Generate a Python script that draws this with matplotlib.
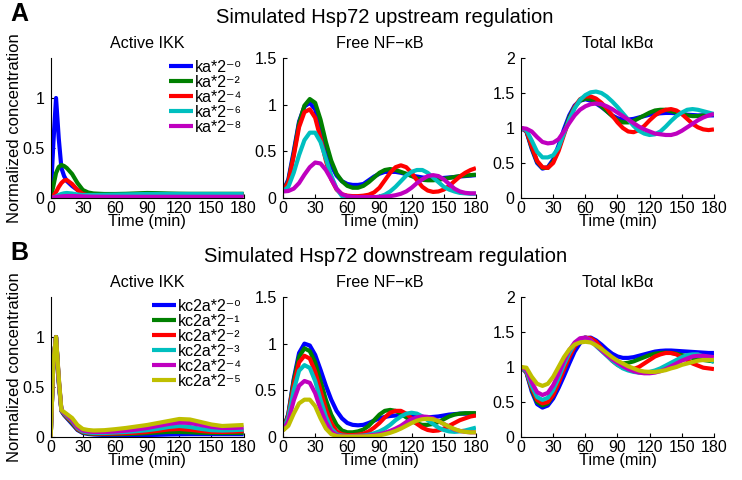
import numpy as np
import matplotlib
matplotlib.use("Agg")
from matplotlib import pyplot as plt

plt.rcParams['font.family'] = ['Liberation Sans', 'DejaVu Sans']

# ---- data ----
t = list(range(0, 181, 5))
t_ikk = [0, 2.5, 5, 7.5, 10, 12.5, 15, 20, 25, 30, 35, 40, 50, 60, 70, 80, 90,
         100, 110, 120, 130, 140, 150, 160, 170, 180]

up_labels = ['ka*2\u207b\u2070', 'ka*2\u207b\u00b2', 'ka*2\u207b\u2074',
             'ka*2\u207b\u2076', 'ka*2\u207b\u2078']
down_labels = ['kc2a*2\u207b\u2070', 'kc2a*2\u207b\u00b9', 'kc2a*2\u207b\u00b2',
               'kc2a*2\u207b\u00b3', 'kc2a*2\u207b\u2074', 'kc2a*2\u207b\u2075']

colors = ['#0000ff', '#008000', '#ff0000', '#00bfbf', '#bf00bf', '#bfbf00']

# upstream: active IKK
up_ikk = [
    [0, 0.55, 1.0, 0.6, 0.3, 0.22, 0.17, 0.12, 0.08, 0.05, 0.04, 0.035, 0.035, 0.035,
     0.035, 0.035, 0.035, 0.035, 0.035, 0.035, 0.035, 0.035, 0.035, 0.035, 0.035, 0.035],
    [0, 0.12, 0.25, 0.31, 0.33, 0.32, 0.3, 0.24, 0.15, 0.08, 0.055, 0.045, 0.04, 0.04,
     0.042, 0.046, 0.05, 0.048, 0.045, 0.043, 0.042, 0.042, 0.042, 0.042, 0.042, 0.042],
    [0, 0.02, 0.06, 0.11, 0.15, 0.175, 0.18, 0.14, 0.08, 0.04, 0.025, 0.02, 0.02, 0.02,
     0.02, 0.022, 0.025, 0.027, 0.028, 0.028, 0.028, 0.028, 0.028, 0.028, 0.028, 0.028],
    [0, 0.005, 0.015, 0.03, 0.04, 0.047, 0.05, 0.045, 0.035, 0.03, 0.03, 0.03, 0.032,
     0.034, 0.036, 0.038, 0.04, 0.04, 0.04, 0.04, 0.04, 0.04, 0.04, 0.04, 0.04, 0.04],
    [0, 0.005, 0.01, 0.013, 0.016, 0.018, 0.02, 0.02, 0.018, 0.016, 0.014, 0.013, 0.012,
     0.012, 0.012, 0.012, 0.012, 0.012, 0.012, 0.012, 0.012, 0.012, 0.012, 0.012, 0.012, 0.012],
]

# upstream: free NF-kB
up_nfkb = [
    [0.07, 0.2, 0.5, 0.82, 0.98, 1.02, 0.95, 0.75, 0.52, 0.35, 0.24, 0.18, 0.15, 0.14, 0.14,
     0.15, 0.19, 0.23, 0.26, 0.28, 0.28, 0.28, 0.27, 0.255, 0.24, 0.23, 0.22, 0.215, 0.21,
     0.21, 0.215, 0.22, 0.225, 0.23, 0.235, 0.24, 0.245],
    [0.07, 0.18, 0.47, 0.8, 0.99, 1.06, 1.02, 0.84, 0.6, 0.4, 0.26, 0.18, 0.13, 0.11, 0.11,
     0.13, 0.17, 0.22, 0.27, 0.3, 0.31, 0.3, 0.28, 0.26, 0.235, 0.21, 0.195, 0.19, 0.19,
     0.195, 0.205, 0.215, 0.225, 0.235, 0.24, 0.245, 0.25],
    [0.07, 0.17, 0.45, 0.76, 0.92, 0.95, 0.86, 0.64, 0.4, 0.2, 0.09, 0.04, 0.025, 0.02, 0.02,
     0.025, 0.035, 0.06, 0.11, 0.19, 0.27, 0.33, 0.35, 0.33, 0.27, 0.19, 0.12, 0.08, 0.065,
     0.07, 0.09, 0.13, 0.18, 0.23, 0.27, 0.3, 0.32],
    [0.07, 0.12, 0.27, 0.46, 0.62, 0.7, 0.7, 0.6, 0.42, 0.24, 0.1, 0.02, 0, 0, 0, 0, 0,
     0.005, 0.015, 0.035, 0.07, 0.12, 0.18, 0.24, 0.28, 0.3, 0.3, 0.27, 0.22, 0.17, 0.12,
     0.09, 0.07, 0.055, 0.05, 0.045, 0.045],
    [0.07, 0.075, 0.1, 0.16, 0.25, 0.33, 0.38, 0.37, 0.3, 0.2, 0.1, 0.04, 0.02, 0.012, 0.01,
     0.01, 0.01, 0.01, 0.012, 0.015, 0.02, 0.03, 0.045, 0.07, 0.11, 0.16, 0.2, 0.235, 0.245,
     0.235, 0.2, 0.15, 0.1, 0.07, 0.055, 0.05, 0.05],
]

# upstream: total IkBa
up_ikba = [
    [1.0, 0.95, 0.7, 0.5, 0.42, 0.44, 0.55, 0.75, 0.98, 1.18, 1.32, 1.39, 1.41, 1.39, 1.35,
     1.3, 1.24, 1.18, 1.14, 1.12, 1.12, 1.13, 1.15, 1.17, 1.19, 1.2, 1.21, 1.215, 1.215,
     1.21, 1.2, 1.19, 1.185, 1.18, 1.18, 1.18, 1.18],
    [1.0, 0.96, 0.72, 0.52, 0.43, 0.43, 0.52, 0.7, 0.93, 1.15, 1.3, 1.39, 1.42, 1.41, 1.37,
     1.31, 1.24, 1.17, 1.11, 1.08, 1.08, 1.1, 1.14, 1.18, 1.22, 1.25, 1.26, 1.26, 1.24,
     1.22, 1.2, 1.18, 1.17, 1.17, 1.18, 1.19, 1.2],
    [1.0, 0.96, 0.74, 0.53, 0.44, 0.43, 0.5, 0.67, 0.9, 1.12, 1.3, 1.41, 1.45, 1.45, 1.42,
     1.36, 1.28, 1.18, 1.08, 1.0, 0.95, 0.94, 0.97, 1.03, 1.11, 1.18, 1.23, 1.26, 1.27,
     1.25, 1.2, 1.13, 1.06, 1.01, 0.98, 0.97, 0.98],
    [1.0, 0.97, 0.82, 0.66, 0.58, 0.58, 0.61, 0.72, 0.92, 1.12, 1.28, 1.4, 1.47, 1.51, 1.52,
     1.5, 1.45, 1.38, 1.3, 1.21, 1.12, 1.03, 0.96, 0.92, 0.9, 0.91, 0.95, 1.02, 1.1, 1.17,
     1.22, 1.26, 1.27, 1.26, 1.24, 1.22, 1.2],
    [1.0, 0.99, 0.95, 0.87, 0.8, 0.78, 0.79, 0.84, 0.95, 1.07, 1.18, 1.26, 1.31, 1.34, 1.35,
     1.34, 1.31, 1.27, 1.22, 1.17, 1.12, 1.07, 1.02, 0.98, 0.95, 0.92, 0.91, 0.9, 0.9,
     0.92, 0.96, 1.01, 1.06, 1.11, 1.15, 1.18, 1.2],
]

# downstream: active IKK
down_ikk = [
    [0, 0.75, 1.0, 0.55, 0.26, 0.22, 0.19, 0.13, 0.07, 0.04, 0.03, 0.025, 0.02, 0.02,
     0.02, 0.02, 0.02, 0.022, 0.025, 0.027, 0.028, 0.028, 0.028, 0.028, 0.028, 0.028],
    [0, 0.75, 1.0, 0.56, 0.265, 0.225, 0.195, 0.14, 0.075, 0.045, 0.035, 0.03, 0.028,
     0.028, 0.03, 0.033, 0.038, 0.045, 0.05, 0.05, 0.047, 0.042, 0.04, 0.04, 0.04, 0.04],
    [0, 0.75, 1.0, 0.57, 0.267, 0.23, 0.2, 0.15, 0.08, 0.05, 0.04, 0.035, 0.033, 0.035,
     0.038, 0.043, 0.05, 0.062, 0.075, 0.08, 0.072, 0.06, 0.052, 0.05, 0.053, 0.058],
    [0, 0.75, 1.0, 0.58, 0.268, 0.235, 0.21, 0.16, 0.09, 0.055, 0.045, 0.04, 0.04, 0.045,
     0.05, 0.058, 0.068, 0.082, 0.1, 0.11, 0.1, 0.082, 0.068, 0.065, 0.068, 0.074],
    [0, 0.75, 1.0, 0.59, 0.27, 0.24, 0.22, 0.17, 0.1, 0.065, 0.055, 0.05, 0.05, 0.055,
     0.063, 0.075, 0.09, 0.11, 0.13, 0.145, 0.14, 0.12, 0.1, 0.09, 0.09, 0.095],
    [0, 0.75, 1.0, 0.6, 0.27, 0.25, 0.23, 0.19, 0.12, 0.08, 0.07, 0.065, 0.068, 0.078,
     0.09, 0.105, 0.12, 0.14, 0.16, 0.18, 0.175, 0.15, 0.125, 0.11, 0.115, 0.12],
]

# downstream: free NF-kB
down_nfkb = [
    [0.07, 0.25, 0.62, 0.9, 1.0, 0.98, 0.88, 0.72, 0.55, 0.4, 0.28, 0.2, 0.15, 0.13, 0.125,
     0.13, 0.15, 0.175, 0.2, 0.215, 0.225, 0.23, 0.23, 0.225, 0.22, 0.215, 0.21, 0.21,
     0.215, 0.22, 0.23, 0.24, 0.245, 0.25, 0.25, 0.25, 0.25],
    [0.07, 0.24, 0.6, 0.86, 0.95, 0.92, 0.8, 0.6, 0.4, 0.24, 0.13, 0.07, 0.05, 0.05, 0.06,
     0.08, 0.12, 0.18, 0.24, 0.28, 0.29, 0.28, 0.25, 0.21, 0.17, 0.145, 0.13, 0.13, 0.14,
     0.16, 0.19, 0.22, 0.24, 0.25, 0.255, 0.255, 0.255],
    [0.07, 0.23, 0.56, 0.8, 0.87, 0.84, 0.7, 0.5, 0.3, 0.15, 0.06, 0.03, 0.02, 0.02, 0.025,
     0.035, 0.06, 0.1, 0.15, 0.21, 0.26, 0.28, 0.28, 0.25, 0.2, 0.14, 0.1, 0.075, 0.065,
     0.07, 0.09, 0.12, 0.15, 0.18, 0.2, 0.22, 0.23],
    [0.07, 0.21, 0.5, 0.71, 0.77, 0.74, 0.6, 0.4, 0.22, 0.09, 0.03, 0.015, 0.01, 0.01, 0.012,
     0.015, 0.025, 0.04, 0.06, 0.09, 0.13, 0.18, 0.22, 0.25, 0.26, 0.25, 0.22, 0.18, 0.14,
     0.1, 0.075, 0.06, 0.055, 0.06, 0.07, 0.085, 0.1],
    [0.07, 0.17, 0.39, 0.55, 0.6, 0.58, 0.47, 0.3, 0.16, 0.06, 0.02, 0.01, 0.008, 0.008,
     0.008, 0.01, 0.015, 0.022, 0.03, 0.045, 0.065, 0.09, 0.12, 0.16, 0.19, 0.21, 0.22,
     0.215, 0.2, 0.17, 0.14, 0.11, 0.08, 0.065, 0.055, 0.05, 0.05],
    [0.07, 0.12, 0.25, 0.36, 0.4, 0.4, 0.33, 0.2, 0.09, 0.03, 0.01, 0.005, 0.005, 0.005,
     0.005, 0.006, 0.008, 0.012, 0.018, 0.03, 0.045, 0.065, 0.09, 0.12, 0.15, 0.175, 0.19,
     0.195, 0.19, 0.17, 0.14, 0.11, 0.085, 0.065, 0.055, 0.05, 0.05],
]

# downstream: total IkBa
down_ikba = [
    [1.0, 0.92, 0.65, 0.47, 0.42, 0.45, 0.55, 0.7, 0.87, 1.05, 1.22, 1.34, 1.41, 1.42, 1.38,
     1.32, 1.25, 1.19, 1.15, 1.13, 1.13, 1.14, 1.16, 1.18, 1.2, 1.22, 1.23, 1.235, 1.235,
     1.23, 1.225, 1.22, 1.215, 1.21, 1.205, 1.2, 1.2],
    [1.0, 0.93, 0.68, 0.5, 0.45, 0.48, 0.6, 0.78, 0.97, 1.15, 1.3, 1.39, 1.42, 1.4, 1.34,
     1.26, 1.18, 1.11, 1.07, 1.05, 1.06, 1.08, 1.11, 1.14, 1.17, 1.19, 1.2, 1.205, 1.2,
     1.19, 1.17, 1.15, 1.13, 1.11, 1.1, 1.09, 1.08],
    [1.0, 0.93, 0.7, 0.53, 0.48, 0.5, 0.6, 0.77, 0.96, 1.14, 1.29, 1.38, 1.42, 1.41, 1.36,
     1.27, 1.17, 1.09, 1.03, 0.99, 0.97, 0.97, 1.0, 1.05, 1.1, 1.15, 1.18, 1.2, 1.2, 1.18,
     1.14, 1.1, 1.05, 1.02, 0.99, 0.98, 0.97],
    [1.0, 0.94, 0.73, 0.57, 0.53, 0.56, 0.67, 0.84, 1.03, 1.2, 1.33, 1.4, 1.42, 1.38, 1.3,
     1.23, 1.16, 1.09, 1.03, 0.98, 0.95, 0.93, 0.92, 0.92, 0.93, 0.95, 0.98, 1.02, 1.06,
     1.1, 1.14, 1.17, 1.18, 1.18, 1.15, 1.11, 1.07],
    [1.0, 0.96, 0.78, 0.64, 0.6, 0.63, 0.74, 0.9, 1.08, 1.24, 1.35, 1.41, 1.42, 1.38, 1.31,
     1.24, 1.17, 1.11, 1.06, 1.01, 0.97, 0.94, 0.92, 0.91, 0.91, 0.92, 0.94, 0.97, 1.01,
     1.05, 1.09, 1.12, 1.15, 1.16, 1.16, 1.15, 1.14],
    [1.0, 0.99, 0.86, 0.76, 0.73, 0.76, 0.86, 1.0, 1.14, 1.25, 1.32, 1.35, 1.36, 1.35, 1.31,
     1.26, 1.2, 1.14, 1.09, 1.05, 1.01, 0.98, 0.95, 0.935, 0.93, 0.93, 0.94, 0.955, 0.98,
     1.0, 1.03, 1.05, 1.07, 1.09, 1.1, 1.1, 1.1],
]

titles = ['Active IKK', 'Free NF\u2212\u03baB', 'Total I\u03baB\u03b1']
suptitles = ['Simulated Hsp72 upstream regulation', 'Simulated Hsp72 downstream regulation']
panel_letters = ['A', 'B']
xticks = [0, 30, 60, 90, 120, 150, 180]
yticks = [[0, 0.5, 1], [0, 0.5, 1, 1.5], [0, 0.5, 1, 1.5, 2]]
ylims = [1.4, 1.5, 2.0]

# ---- figure ----
fig = plt.figure(figsize=(7.42, 4.8), dpi=100)

lefts = [0.0683, 0.3814, 0.7022]
bottoms = [0.5875, 0.0896]
w, h = 0.26, 0.2917

rows = [(t_ikk, up_ikk, t, up_nfkb, t, up_ikba, up_labels),
        (t_ikk, down_ikk, t, down_nfkb, t, down_ikba, down_labels)]

for r, (t1, d1, t2, d2, t3, d3, labels) in enumerate(rows):
    panels = [(t1, d1), (t2, d2), (t3, d3)]
    for c, (tt, dd) in enumerate(panels):
        ax = fig.add_axes([lefts[c], bottoms[r], w, h])
        for i, y in enumerate(dd):
            ax.plot(tt, y, color=colors[i], lw=3, label=labels[i],
                    solid_capstyle='butt')
        ax.set_xlim(0, 180)
        ax.set_ylim(0, ylims[c])
        ax.set_xticks(xticks, labels=[str(v) for v in xticks])
        ax.set_yticks(yticks[c], labels=['%g' % v for v in yticks[c]])
        ax.spines['top'].set_visible(False)
        ax.spines['right'].set_visible(False)
        for s in ['left', 'bottom']:
            ax.spines[s].set_linewidth(0.8)
        ax.tick_params(direction='in', length=3, width=0.8, labelsize=11.5)
        ax.tick_params(axis='x', pad=2)
        ax.tick_params(axis='y', pad=4.6)
        ax.set_title(titles[c], fontsize=11.6, pad=7)
        ax.set_xlabel('Time (min)', fontsize=11.8, labelpad=-1)
        if c == 0:
            ax.set_ylabel('Normalized concentration', fontsize=12, labelpad=0)
            ax.legend(loc='upper right', frameon=False, fontsize=11.5,
                      handlelength=1.5, handletextpad=0.1, labelspacing=0.0,
                      borderaxespad=0.0, borderpad=0.1)

    fig.text(0.519, [0.964, 0.465][r], suptitles[r], fontsize=14.5,
             ha='center', va='center')
    fig.text(0.014, [0.971, 0.472][r], panel_letters[r], fontsize=18,
             fontweight='bold', ha='left', va='center')

fig.savefig('out.png', dpi=100)
